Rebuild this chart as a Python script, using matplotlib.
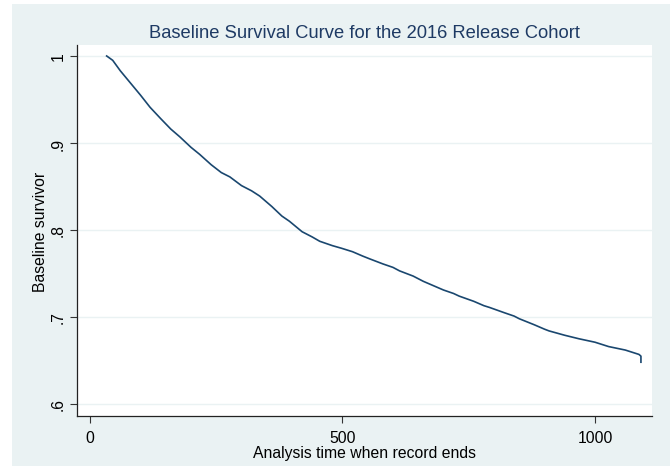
import matplotlib
matplotlib.use('Agg')
import matplotlib.pyplot as plt
from matplotlib.patches import Rectangle

# survival curve values
time = [33, 45, 60, 80, 100, 119, 140, 160, 178, 200, 217, 240, 260, 277, 300, 320, 336,
        360, 380, 395, 420, 440, 455, 480, 498, 520, 540, 553, 580, 600, 613, 640, 660,
        672, 700, 720, 731, 760, 780, 791, 820, 840, 850, 880, 900, 909, 940, 968, 1000,
        1027, 1060, 1087, 1091, 1091]
survivor = [1.0, 0.995, 0.983, 0.969, 0.955, 0.941, 0.928, 0.916, 0.907, 0.895, 0.887,
            0.875, 0.866, 0.861, 0.851, 0.845, 0.839, 0.827, 0.816, 0.810, 0.798, 0.792,
            0.787, 0.782, 0.779, 0.775, 0.770, 0.767, 0.761, 0.757, 0.753, 0.747, 0.741,
            0.738, 0.731, 0.727, 0.724, 0.718, 0.713, 0.711, 0.705, 0.701, 0.698, 0.691,
            0.686, 0.684, 0.679, 0.675, 0.671, 0.666, 0.662, 0.657, 0.655, 0.648]

xticks = [0, 500, 1000]
yticks = [0.6, 0.7, 0.8, 0.9, 1.0]
ylabels = ['.6', '.7', '.8', '.9', '1']

plt.rcParams['font.family'] = ['Liberation Sans', 'DejaVu Sans']

W, H = 670, 477
fig = plt.figure(figsize=(W / 100, H / 100), dpi=100, facecolor='white')
fig.patches.append(Rectangle((12 / W, 0.02), 1, 1 - 5 / H - 0.02, transform=fig.transFigure,
                             facecolor='#EAF2F3', edgecolor='none', zorder=-10))

ax = fig.add_axes([77 / W, (H - 417) / H, (652 - 77) / W, (417 - 46) / H])
ax.set_facecolor('white')
ax.plot(time, survivor, color='#1A476F', linewidth=1.2)

ax.set_xlim(-25.7, 1112.9)
ax.set_ylim(0.5862, 1.0126)
ax.set_xticks(xticks)
ax.set_yticks(yticks)
ax.set_yticklabels(ylabels, rotation=90, va='center')
ax.tick_params(direction='out', length=5, width=0.8, color='#333333', labelsize=11.3, pad=3)
ax.tick_params(axis='x', pad=5)
ax.grid(axis='y', color='#EAF2F3', linewidth=1)
ax.set_axisbelow(True)
for s in ['top', 'right']:
    ax.spines[s].set_visible(False)
for s in ['left', 'bottom']:
    ax.spines[s].set_color('#222222')
    ax.spines[s].set_linewidth(0.9)

ax.set_xlabel('Analysis time when record ends', fontsize=11.3, labelpad=0)
ax.set_ylabel('Baseline survivor', fontsize=11.3, labelpad=2)
ax.set_title('Baseline Survival Curve for the 2016 Release Cohort', fontsize=13.2,
             color='#1E3A64', pad=6)

fig.savefig('out.png', dpi=100, facecolor=fig.get_facecolor())
